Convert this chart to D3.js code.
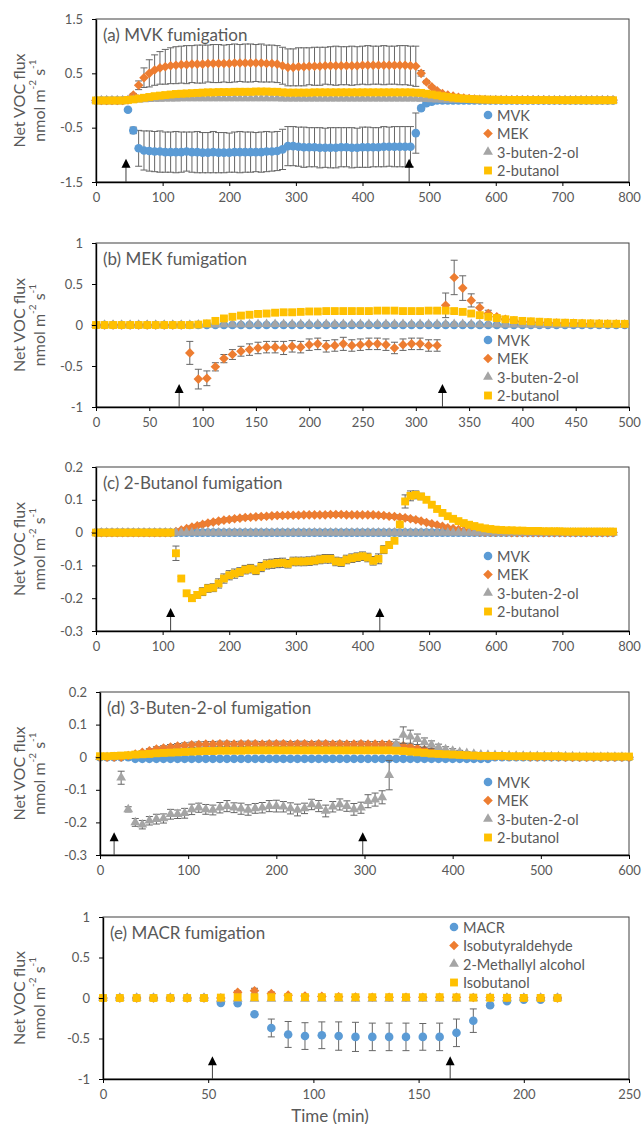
<!DOCTYPE html>
<html>
<head>
<meta charset="utf-8">
<script src="https://cdn.jsdelivr.net/npm/d3@7"></script>
<style>
  body { margin: 0; background: #fff; }
  svg text { font-family: Lato, "Open Sans", sans-serif; fill: #595959; }
</style>
</head>
<body>
<svg id="chart" width="643" height="1124"></svg>
<script>
// sampling interval of the flux measurements (min)
const step = 8;

const vocNames = ["MVK", "MEK", "3-buten-2-ol", "2-butanol"];
const macrNames = ["MACR", "Isobutyraldehyde", "2-Methallyl alcohol", "Isobutanol"];

// (a) MVK fumigation, t = 0..776
const aMvk = [0,0,0,0,0,0,-0.17,-0.55,-0.88,-0.92,-0.93,
  -0.94,-0.94,-0.95,-0.95,-0.95,-0.95,-0.94,-0.95,-0.95,-0.96,-0.96,-0.95,-0.96,-0.96,-0.96,-0.95,-0.95,-0.95,-0.95,-0.95,-0.95,-0.94,-0.94,-0.93,
  -0.9,-0.84,
  -0.84,-0.85,-0.86,-0.86,-0.86,-0.87,-0.87,-0.87,-0.87,-0.86,-0.86,-0.87,-0.87,-0.86,-0.86,-0.86,-0.86,-0.85,-0.85,-0.85,-0.85,-0.85,
  -0.85,-0.6,-0.14,-0.05,-0.02,
  0,0,0,0,0,0,0,0,0,0,0,0,0,0,0,0,0,0,0,0,0,0,0,0,0,0,0,0,0,0,0,0,0,0];
const aMvkErr = [0,0,0,0,0,0,0.02,0.06,0.33,0.36,0.37,
  0.37,0.38,0.37,0.37,0.38,0.37,0.36,0.37,0.38,0.37,0.37,0.38,0.37,0.37,0.36,0.37,0.38,0.37,0.37,0.36,0.37,0.37,0.36,0.36,
  0.37,0.36,
  0.36,0.36,0.37,0.36,0.36,0.37,0.36,0.37,0.37,0.36,0.36,0.37,0.36,0.37,0.37,0.36,0.36,0.37,0.36,0.37,0.37,0.37,
  0.37,0.37,0.04,0.02,0.01,
  0,0,0,0,0,0,0,0,0,0,0,0,0,0,0,0,0,0,0,0,0,0,0,0,0,0,0,0,0,0,0,0,0,0];
const aMek = [0,0,0,0,0,0,0.01,0.1,0.28,0.42,0.5,0.56,0.6,0.62,0.64,0.65,
  0.66,0.66,0.67,0.67,0.67,0.68,0.68,0.68,0.68,0.68,0.69,0.69,0.69,0.69,0.69,0.69,0.68,0.68,
  0.67,0.64,0.61,
  0.61,0.62,0.62,0.63,0.63,0.63,0.64,0.64,0.64,0.64,0.64,0.64,0.64,0.65,0.65,0.65,0.65,0.65,0.65,0.65,0.65,0.65,
  0.64,0.63,0.5,0.34,0.25,0.18,0.13,0.1,0.08,0.06,0.045,0.035,0.028,0.022,0.018,0.015,
  0.014,0.014,0.013,0.013,0.012,0.012,0.012,0.011,0.011,0.011,0.01,0.01,0.01,0.01,0.009,0.009,0.009,0.009,0.008,0.008,0.008,0.008,0.008];
const aMekErr = [0,0,0,0,0,0,0.01,0.03,0.08,0.18,0.25,0.28,0.3,0.32,0.33,0.34,
  0.34,0.35,0.34,0.35,0.35,0.34,0.35,0.35,0.34,0.35,0.35,0.34,0.35,0.35,0.34,0.35,0.34,0.34,
  0.34,0.34,0.34,
  0.34,0.35,0.35,0.34,0.35,0.35,0.34,0.35,0.36,0.35,0.35,0.36,0.35,0.35,0.36,0.35,0.35,0.36,0.35,0.35,0.36,0.36,
  0.36,0.37,0.05,0.03,0.02,0.015,0.01,0.01,0.01,0.01,0.01,0.01,0.01,0.01,0.01,0.01,
  0.01,0.01,0.01,0.01,0.01,0.01,0.01,0.01,0.01,0.01,0.01,0.01,0.01,0.01,0.01,0.01,0.01,0.01,0.01,0.01,0.01,0.01,0.01];
const aButen = [0,0,0,0,0,0,0.005,0.01,0.015,0.02,0.025,
  0.03,0.03,0.035,0.035,0.035,0.04,0.04,0.04,0.04,0.04,0.04,0.04,0.04,0.04,0.04,0.04,0.04,0.04,0.04,0.04,0.04,0.04,0.04,0.04,
  0.035,0.035,
  0.035,0.035,0.035,0.035,0.035,0.035,0.035,0.035,0.035,0.035,0.035,0.035,0.035,0.035,0.035,0.035,0.035,0.035,0.035,0.035,0.035,0.035,
  0.035,0.035,0.03,0.025,0.02,0.017,0.014,0.012,0.01,0.008,0.006,0.005,0.004,0.003,0.002,0.002,
  0.001,0.001,0.001,0.001,0.001,0.001,0.001,0.001,0.001,0.001,0,0,0,0,0,0,0,0,0,0,0,0,0];
const aButanol = [0,0,0,0,0,0,0.01,0.02,0.035,0.05,0.065,
  0.08,0.09,0.1,0.11,0.12,0.125,0.13,0.135,0.14,0.145,0.15,0.15,0.155,0.155,0.155,0.16,0.16,0.16,0.16,0.165,0.165,0.165,0.16,0.16,
  0.15,0.145,
  0.145,0.145,0.145,0.145,0.15,0.15,0.15,0.15,0.15,0.15,0.15,0.15,0.15,0.15,0.15,0.15,0.15,0.15,0.15,0.15,0.15,0.15,
  0.15,0.145,0.14,0.125,0.11,0.095,0.08,0.065,0.052,0.042,0.035,0.029,0.024,0.02,0.017,0.015,
  0.013,0.012,0.011,0.01,0.01,0.009,0.009,0.008,0.008,0.008,0.007,0.007,0.007,0.006,0.006,0.006,0.006,0.005,0.005,0.005,0.005,0.005,0.005];

// (b) MEK fumigation, t = 0..496
const bMvk = [0,0,0,0,0,0,0,0,0,0,0,0,0,0,0,0,0,0,0,0,0,0,0,0,0,0,0,0,0,0,0,0,
  0,0,0,0,0,0,0,0,0,0,0,0,0,0,0,0,0,0,0,0,0,0,0,0,0,0,0,0,0,0,0];
const bMek = [0,0,0,0,0,0,0,0,0,0,0,
  -0.34,-0.66,-0.65,-0.51,-0.41,-0.36,-0.32,-0.3,-0.28,-0.27,-0.27,-0.28,-0.26,-0.27,-0.24,-0.23,-0.26,-0.25,-0.23,-0.25,-0.24,-0.23,-0.23,-0.24,-0.28,-0.24,-0.23,-0.23,-0.25,-0.25,
  0.24,0.58,0.45,0.3,0.21,0.14,0.1,0.07,0.05,0.04,0.035,
  0.03,0.028,0.025,0.022,0.02,0.018,0.016,0.015,0.013,0.012,0.01];
const bMekErr = [0,0,0,0,0,0,0,0,0,0,0,
  0.14,0.12,0.09,0.05,0.05,0.06,0.06,0.07,0.07,0.07,0.07,0.08,0.07,0.07,0.07,0.07,0.07,0.07,0.08,0.07,0.07,0.07,0.07,0.07,0.07,0.07,0.07,0.07,0.07,0.07,
  0.15,0.21,0.15,0.08,0.06,0.04,0.02,0.01,0.01,0.01,0.01,
  0.01,0.01,0.01,0.01,0.01,0.01,0.01,0.01,0.01,0.01,0.01];
const bButen = [0,0,0,0,0,0,0,0,0,0,0,0,
  0.003,0.004,0.005,0.006,0.007,0.008,0.008,0.009,0.009,0.01,0.01,0.01,0.01,0.01,0.01,0.01,0.01,0.01,0.01,0.01,0.01,0.01,0.01,0.01,0.01,0.01,0.01,0.01,0.01,0.01,0.01,0.01,0.009,0.008,0.007,0.006,0.005,0.004,0.003,
  0.002,0.002,0.001,0.001,0.001,0,0,0,0,0,0,0];
const bButanol = [0,0,0,0,0,0,0,0,0,0,0,0,
  0.005,0.02,0.05,0.08,0.1,0.115,0.125,0.135,0.14,0.15,0.155,0.155,0.16,
  0.165,0.165,0.17,0.17,0.17,0.17,0.17,0.17,0.175,0.175,0.175,0.17,0.17,0.17,0.175,0.175,
  0.175,0.17,0.16,0.14,0.12,0.1,0.085,0.07,0.06,0.05,0.045,0.04,0.035,0.03,0.028,
  0.025,0.022,0.02,0.018,0.016,0.015,0.014];
const bButanolErr = [0,0,0,0,0,0,0,0,0,0,0,0,
  0.005,0.01,0.015,0.02,0.02,0.022,0.022,0.024,0.024,0.025,0.025,0.025,0.026,
  0.026,0.026,0.027,0.027,0.027,0.027,0.027,0.027,0.028,0.028,0.028,0.027,0.027,0.027,0.028,0.028,
  0.028,0.027,0.025,0.022,0.02,0.017,0.014,0.012,0.01,0.008,0.007,0.006,0.005,0.005,0.004,
  0.004,0.004,0.003,0.003,0.003,0.003,0.003];

// (c) 2-butanol fumigation, t = 0..776
const cMvk = [0,0,0,0,0,0,0,0,0,0,0,0,0,0,0,0,0,0,0,0,0,0,0,0,0,0,0,0,0,0,0,0,0,0,0,0,0,0,0,0,0,0,0,0,0,0,0,0,0,
  0,0,0,0,0,0,0,0,0,0,0,0,0,0,0,0,0,0,0,0,0,0,0,0,0,0,0,0,0,0,0,0,0,0,0,0,0,0,0,0,0,0,0,0,0,0,0,0,0];
const cMek = [0,0,0,0,0,0,0,0,0,0,0,0,0,0,0,
  0.003,0.008,0.012,0.017,0.021,0.025,0.029,0.032,0.035,0.038,0.04,0.042,0.044,0.046,0.047,0.048,0.049,0.05,
  0.051,0.052,0.052,0.053,0.053,0.053,0.054,0.054,0.054,0.054,0.054,0.055,0.055,0.055,0.054,0.054,0.054,0.054,0.054,0.054,0.053,
  0.052,0.05,0.049,0.047,0.045,0.042,0.039,0.035,0.031,0.027,0.023,0.019,0.015,0.012,0.009,0.006,0.004,0.003,0.002,
  0.001,0.001,0.001,0.001,0.001,0,0,0,0,0,0,0,0,0,0,0,0,0,0,0,0,0,0,0,0];
const cMekErr = [0,0,0,0,0,0,0,0,0,0,0,0,0,0,0,
  0.002,0.003,0.003,0.004,0.004,0.005,0.005,0.005,0.005,0.005,0.005,0.005,0.005,0.005,0.005,0.005,0.005,0.005,
  0.005,0.005,0.005,0.005,0.005,0.005,0.005,0.005,0.005,0.005,0.005,0.005,0.005,0.005,0.005,0.005,0.005,0.005,0.005,0.005,0.005,
  0.005,0.005,0.005,0.005,0.005,0.005,0.005,0.004,0.004,0.004,0.003,0.003,0.003,0.002,0.002,0.001,0.001,0.001,0.001,
  0,0,0,0,0,0,0,0,0,0,0,0,0,0,0,0,0,0,0,0,0,0,0,0,0];
const cButen = [0,0,0,0,0,0,0,0,0,0,0,0,0,0,0,0,0,0,0,0,0,0,0,0,0,0,0,0,0,0,0,0,0,0,0,0,0,0,0,0,0,0,0,0,0,0,0,0,0,
  0,0,0,0,0,0,0,0,0,0,0,0,0,0,0,0,0,0,0,0,0,0,0,0,0,0,0,0,0,0,0,0,0,0,0,0,0,0,0,0,0,0,0,0,0,0,0,0,0];
const cButanol = [0,0,0,0,0,0,0,0,0,0,0,0,0,0,0,
  -0.063,-0.14,-0.185,-0.2,-0.19,-0.18,-0.17,-0.168,-0.155,-0.14,-0.13,-0.125,-0.12,-0.113,-0.11,-0.115,-0.105,-0.097,-0.095,-0.093,-0.092,-0.095,-0.088,-0.088,-0.088,-0.087,-0.085,-0.082,-0.08,-0.08,-0.088,-0.09,-0.082,-0.078,-0.075,-0.072,-0.076,-0.086,-0.08,
  -0.052,-0.038,-0.025,0.025,0.095,0.112,0.115,0.11,0.1,0.085,0.072,0.06,0.05,0.042,0.035,0.029,0.024,0.02,0.016,0.013,0.011,0.009,
  0.008,0.007,0.007,0.006,0.006,0.005,0.005,0.005,0.004,0.004,0.004,0.004,0.003,0.003,0.003,0.003,0.003,0.003,0.003,0.003,0.003,0.003];
const cButanolErr = [0,0,0,0,0,0,0,0,0,0,0,0,0,0,0,
  0.022,0.006,0.008,0.01,0.01,0.012,0.012,0.012,0.014,0.014,0.014,0.014,0.013,0.013,0.013,0.013,0.014,0.014,0.014,0.014,0.014,0.013,0.013,0.013,0.013,0.013,0.013,0.013,0.013,0.013,0.013,0.013,0.013,0.013,0.013,0.013,0.013,0.013,0.015,
  0.012,0.01,0.008,0.005,0.02,0.015,0.012,0.01,0.008,0.006,0.005,0.004,0.003,0.003,0.003,0.002,0.002,0.002,0.002,0.002,0.002,0.002,
  0.002,0.002,0.002,0.002,0.002,0.002,0.002,0.002,0.002,0.002,0.002,0.002,0.002,0.002,0.002,0.002,0.002,0.002,0.002,0.002,0.002,0.002];

// (d) 3-buten-2-ol fumigation, t = 0..600
const dMvk = [0,0,0,0,0,
  -0.005,-0.005,-0.005,-0.005,-0.005,-0.005,-0.005,-0.005,-0.005,-0.005,-0.005,-0.005,-0.005,-0.005,-0.005,-0.005,-0.005,-0.005,-0.005,-0.005,-0.005,
  -0.005,-0.005,-0.005,-0.005,-0.005,-0.005,-0.005,-0.005,-0.005,-0.005,-0.005,-0.005,-0.005,-0.005,-0.005,-0.005,-0.005,-0.005,-0.005,-0.005,
  -0.005,-0.005,-0.005,-0.005,-0.005,-0.005,-0.005,-0.005,-0.005,-0.005,
  0,0,0,0,0,0,0,0,0,0,0,0,0,0,0,0,0,0,0,0];
const dMek = [0,0,0,0,0.005,0.01,0.015,0.02,0.025,0.028,0.031,0.034,0.036,0.038,0.039,
  0.04,0.04,0.041,0.041,0.04,0.041,0.041,0.041,0.04,0.041,0.041,0.041,0.04,0.041,0.041,0.04,0.041,0.041,0.04,0.041,0.04,0.04,0.041,0.04,0.04,0.04,0.04,
  0.038,0.035,0.031,0.027,0.023,0.02,0.017,0.014,0.011,0.009,0.007,0.005,
  0.004,0.004,0.003,0.003,0.002,0.002,0.002,0.001,0.001,0.001,0.001,0.001,0,0,0,0,0,0,0,0,0,0];
const dMekErr = [0,0,0,0,0.003,0.004,0.005,0.006,0.007,0.007,0.008,0.008,0.008,0.008,0.008,
  0.008,0.008,0.008,0.008,0.008,0.008,0.008,0.008,0.008,0.008,0.008,0.008,0.008,0.008,0.008,0.008,0.008,0.008,0.008,0.008,0.008,0.008,0.008,0.008,0.008,0.008,0.008,
  0.008,0.007,0.007,0.006,0.006,0.005,0.005,0.004,0.004,0.003,0.003,0.002,
  0.002,0.002,0.002,0.001,0.001,0.001,0.001,0,0,0,0,0,0,0,0,0,0,0,0,0,0,0];
const dButen = [0,0,0,-0.063,-0.16,-0.2,-0.207,-0.195,-0.19,-0.188,-0.175,-0.175,-0.172,-0.16,-0.155,-0.16,-0.162,-0.155,-0.15,-0.155,-0.158,-0.162,-0.157,-0.155,-0.15,-0.15,-0.152,-0.157,-0.162,-0.157,-0.145,-0.15,-0.165,-0.152,-0.145,-0.15,-0.16,-0.155,-0.135,-0.13,-0.123,
  -0.055,0.04,0.068,0.063,0.055,0.045,0.038,0.03,0.024,0.019,0.015,0.012,0.01,
  0.008,0.007,0.006,0.005,0.005,0.004,0.004,0.003,0.003,0.003,0.002,0.002,0.002,0.002,0.001,0.001,0.001,0.001,0.001,0.001,0.001,0.001];
const dButenErr = [0,0,0,0.02,0.008,0.012,0.013,0.013,0.015,0.014,0.015,0.013,0.015,0.016,0.014,0.015,0.015,0.016,0.017,0.015,0.017,0.016,0.015,0.016,0.017,0.018,0.016,0.017,0.018,0.016,0.016,0.017,0.018,0.016,0.017,0.016,0.018,0.017,0.02,0.02,0.02,
  0.045,0.015,0.025,0.02,0.016,0.014,0.012,0.01,0.008,0.007,0.006,0.005,0.005,
  0.004,0.004,0.004,0.004,0.004,0.004,0.004,0.004,0.004,0.004,0.004,0.004,0.004,0.004,0.004,0.004,0.004,0.004,0.004,0.004,0.004,0.004];
const dButanol = [0.003,0.003,0.004,0.005,0.006,0.008,0.009,0.01,0.012,0.013,0.014,0.015,0.016,0.017,0.018,
  0.019,0.019,0.02,0.02,0.02,0.02,0.021,0.021,0.021,0.021,0.021,0.021,0.021,0.021,0.021,0.021,0.021,0.021,0.021,0.021,0.021,0.021,0.021,0.021,0.021,0.021,0.021,
  0.02,0.019,0.017,0.015,0.013,0.011,0.01,0.009,0.008,0.007,0.006,0.005,
  0.004,0.004,0.004,0.004,0.003,0.003,0.003,0.003,0.003,0.003,0.003,0.003,0.002,0.002,0.002,0.002,0.002,0.002,0.002,0.002,0.002,0.002];

// (e) MACR fumigation, t = 0..216
const eMacr = [0,0,0,0,0,0,0,-0.06,-0.065,-0.2,-0.37,-0.45,-0.47,-0.46,-0.47,-0.48,-0.48,-0.48,-0.48,-0.48,-0.48,-0.43,-0.28,-0.09,-0.04,-0.02,-0.02,0];
const eMacrErr = [0,0,0,0,0,0,0,0.01,0.01,0.02,0.11,0.16,0.165,0.165,0.175,0.18,0.17,0.17,0.17,0.165,0.17,0.17,0.145,0.02,0.01,0.01,0.01,0];
const eIsobutyr = [0,0,0,0,0,0,0,0,0.07,0.09,0.055,0.035,0.025,0.02,0.015,0.012,0.01,0.01,0.01,0.01,0.01,0.008,0.006,0.005,0.004,0.003,0.002,0.001];
const eIsobutyrErr = [0,0,0,0,0,0,0,0,0.02,0.03,0.02,0.015,0.01,0.01,0.01,0.01,0.01,0.01,0.01,0.01,0.01,0.01,0.01,0.01,0.01,0.01,0.01,0.01];
const eMethallyl = [0,0,0,0,0,0,0,-0.01,-0.01,-0.01,-0.01,-0.01,-0.01,-0.01,-0.01,-0.01,-0.01,-0.01,-0.01,-0.01,-0.01,-0.01,-0.005,0,0,0,0,0];
const eIsobutanol = [0,0,0,0,0,0,0,0.005,0.01,0.01,0.01,0.01,0.01,0.01,0.01,0.01,0.01,0.01,0.01,0.01,0.01,0.008,0.005,0.003,0.002,0.001,0.001,0];

// axis ticks
const xTicksA = [0,100,200,300,400,500,600,700,800];
const yTicksA = [-1.5,-0.5,0.5,1.5];
const xTicksB = [0,50,100,150,200,250,300,350,400,450,500];
const yTicksB = [-1,-0.5,0,0.5,1];
const xTicksC = [0,100,200,300,400,500,600,700,800];
const yTicksC = [-0.3,-0.2,-0.1,0,0.1,0.2];
const xTicksD = [0,100,200,300,400,500,600];
const yTicksD = [-0.3,-0.2,-0.1,0,0.1,0.2];
const xTicksE = [0,50,100,150,200,250];
const yTicksE = [-1,-0.5,0,0.5,1];

// fumigation start / stop arrows (min)
const arrowsA = [45, 470];
const arrowsB = [78, 325];
const arrowsC = [112, 426];
const arrowsD = [16, 298];
const arrowsE = [52, 165];

// styling
const colors = ["#5B9BD5", "#ED7D31", "#A5A5A5", "#FFC000"];
// Excel style diamond: a square turned 45 degrees
const symbolRhomb = {
  draw(ctx, size) {
    const r = Math.sqrt(size / 2);
    ctx.moveTo(0, -r); ctx.lineTo(r, 0); ctx.lineTo(0, r); ctx.lineTo(-r, 0); ctx.closePath();
  }
};
const shapes = [d3.symbolCircle, symbolRhomb, d3.symbolTriangle, d3.symbolSquare];
const sizes = [58, 46, 42, 62];
const errColor = "#666";

const panels = [
  { title: "(a) MVK fumigation", names: vocNames,
    series: [[aMvk, aMvkErr], [aMek, aMekErr], [aButen, null], [aButanol, null]],
    xTicks: xTicksA, yTicks: yTicksA, arrows: arrowsA, arrowTip: -1.07,
    left: 96, right: 629, top: 19, bottom: 182, legendX: 488, legendY: 115 },
  { title: "(b) MEK fumigation", names: vocNames,
    series: [[bMvk, null], [bMek, bMekErr], [bButen, null], [bButanol, bButanolErr]],
    xTicks: xTicksB, yTicks: yTicksB, arrows: arrowsB, arrowTip: -0.72,
    left: 96, right: 629, top: 243, bottom: 407, legendX: 488, legendY: 340 },
  { title: "(c) 2-Butanol fumigation", names: vocNames,
    series: [[cMvk, null], [cMek, cMekErr], [cButen, null], [cButanol, cButanolErr]],
    xTicks: xTicksC, yTicks: yTicksC, arrows: arrowsC, arrowTip: -0.23,
    left: 96, right: 629, top: 467, bottom: 631, legendX: 488, legendY: 556 },
  { title: "(d) 3-Buten-2-ol fumigation", names: vocNames,
    series: [[dMvk, null], [dMek, dMekErr], [dButen, dButenErr], [dButanol, null]],
    xTicks: xTicksD, yTicks: yTicksD, arrows: arrowsD, arrowTip: -0.23,
    left: 100, right: 629, top: 692, bottom: 855, legendX: 488, legendY: 782 },
  { title: "(e) MACR fumigation", names: macrNames,
    series: [[eMacr, eMacrErr], [eIsobutyr, eIsobutyrErr], [eMethallyl, null], [eIsobutanol, null]],
    xTicks: xTicksE, yTicks: yTicksE, arrows: arrowsE, arrowTip: -0.72,
    left: 103, right: 629, top: 917, bottom: 1079, legendX: 454, legendY: 927 }
];

const svg = d3.select("#chart");
const yFmt = v => String(+v.toFixed(2));

panels.forEach(p => {
  const x = d3.scaleLinear()
    .domain([p.xTicks[0], p.xTicks[p.xTicks.length - 1]])
    .range([p.left, p.right]);
  const y = d3.scaleLinear()
    .domain([p.yTicks[0], p.yTicks[p.yTicks.length - 1]])
    .range([p.bottom, p.top]);
  const g = svg.append("g");

  // plot area border
  g.append("rect")
    .attr("x", p.left).attr("y", p.top)
    .attr("width", p.right - p.left).attr("height", p.bottom - p.top)
    .attr("fill", "none").attr("stroke", "#404040").attr("stroke-width", 1);

  // series: error bars then markers, in legend order
  p.series.forEach(([vals, errs], k) => {
    const pts = vals.map((v, i) => ({ t: i * step, v: v, e: errs ? errs[i] : 0 }));
    const sg = g.append("g");
    const withErr = pts.filter(d => d.e > 0);
    sg.selectAll(".bar").data(withErr).join("line")
      .attr("x1", d => x(d.t)).attr("x2", d => x(d.t))
      .attr("y1", d => y(d.v - d.e)).attr("y2", d => y(d.v + d.e))
      .attr("stroke", errColor).attr("stroke-width", 1);
    [1, -1].forEach(sgn => {
      sg.selectAll(".cap" + sgn).data(withErr).join("line")
        .attr("x1", d => x(d.t) - 3.5).attr("x2", d => x(d.t) + 3.5)
        .attr("y1", d => y(d.v + sgn * d.e)).attr("y2", d => y(d.v + sgn * d.e))
        .attr("stroke", errColor).attr("stroke-width", 1);
    });
    sg.selectAll(".mark").data(pts).join("path")
      .attr("d", d3.symbol(shapes[k], sizes[k]))
      .attr("transform", d => `translate(${x(d.t)},${y(d.v)})`)
      .attr("fill", colors[k]);
  });

  // axes
  const xAxis = g.append("g")
    .attr("transform", `translate(0,${p.bottom})`)
    .call(d3.axisBottom(x).tickValues(p.xTicks).tickSize(4).tickSizeOuter(0).tickPadding(7).tickFormat(d3.format("d")));
  const yAxis = g.append("g")
    .attr("transform", `translate(${p.left},0)`)
    .call(d3.axisLeft(y).tickValues(p.yTicks).tickSize(4).tickSizeOuter(0).tickPadding(9).tickFormat(yFmt));
  [xAxis, yAxis].forEach(ax => {
    ax.select(".domain").attr("stroke", "#000").attr("stroke-width", 1.4);
    ax.selectAll(".tick line").attr("stroke", "#000");
    ax.selectAll(".tick text").attr("font-size", 13).style("fill", "#595959");
  });

  // fumigation arrows
  p.arrows.forEach(t => {
    const ax = x(t), tip = y(p.arrowTip);
    g.append("line")
      .attr("x1", ax).attr("x2", ax).attr("y1", p.bottom).attr("y2", tip + 8)
      .attr("stroke", "#404040").attr("stroke-width", 1);
    g.append("path")
      .attr("d", `M${ax},${tip} L${ax - 4.5},${tip + 9} L${ax + 4.5},${tip + 9} Z`)
      .attr("fill", "#000");
  });

  // panel title
  g.append("text")
    .attr("x", p.left + 7).attr("y", p.top + 15)
    .attr("dominant-baseline", "central")
    .attr("font-size", 17)
    .text(p.title);

  // legend
  p.names.forEach((name, k) => {
    const ly = p.legendY + k * 18.5;
    g.append("path")
      .attr("d", d3.symbol(shapes[k], sizes[k]))
      .attr("transform", `translate(${p.legendX},${ly})`)
      .attr("fill", colors[k]);
    g.append("text")
      .attr("x", p.legendX + 9).attr("y", ly)
      .attr("dominant-baseline", "central")
      .attr("font-size", 14.5)
      .text(name);
  });

  // y axis title
  const cy = (p.top + p.bottom) / 2;
  g.append("text")
    .attr("transform", `translate(18.5,${cy}) rotate(-90)`)
    .attr("text-anchor", "middle").attr("dominant-baseline", "central")
    .attr("font-size", 16)
    .text("Net VOC flux");
  const unit = g.append("text")
    .attr("transform", `translate(37.5,${cy}) rotate(-90)`)
    .attr("text-anchor", "middle").attr("dominant-baseline", "central")
    .attr("font-size", 16);
  unit.append("tspan").text("nmol m");
  unit.append("tspan").attr("dy", -6).attr("font-size", 10).text("-2");
  unit.append("tspan").attr("dy", 6).text(" s");
  unit.append("tspan").attr("dy", -6).attr("font-size", 10).text("-1");
});

svg.append("text")
  .attr("x", 330).attr("y", 1115)
  .attr("text-anchor", "middle").attr("dominant-baseline", "central")
  .attr("font-size", 17)
  .text("Time (min)");
</script>
</body>
</html>
